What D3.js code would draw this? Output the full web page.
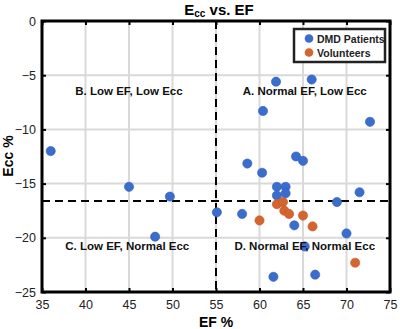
<!DOCTYPE html>
<html>
<head>
<meta charset="utf-8">
<script src="https://cdn.jsdelivr.net/npm/d3@7"></script>
<style>
  body { margin: 0; background: #fff; }
  svg { font-family: "Liberation Sans", Arial, sans-serif; }
</style>
</head>
<body>
<div id="chart"></div>
<script>
// Data
const patientsEF  = [36.0, 45.0, 49.7, 48.0, 55.1, 58.0, 58.6, 60.3, 62.0, 63.0, 62.0, 63.0, 64.2, 65.0, 64.0, 65.2, 61.6, 66.4, 68.9, 70.0, 71.5, 72.7, 61.9, 66.0, 60.4];
const patientsEcc = [-12.0, -15.3, -16.2, -19.9, -17.65, -17.8, -13.15, -14.0, -15.3, -15.3, -16.1, -15.9, -12.5, -12.9, -18.85, -20.8, -23.6, -23.4, -16.7, -19.6, -15.8, -9.3, -5.6, -5.4, -8.3];
const volunteersEF  = [60.0, 62.0, 62.7, 62.85, 63.4, 65.0, 66.1, 71.0];
const volunteersEcc = [-18.4, -16.9, -16.7, -17.5, -17.8, -17.95, -18.95, -22.3];
const xTicks = [35, 40, 45, 50, 55, 60, 65, 70, 75];
const yTicks = [0, -5, -10, -15, -20, -25];
const efCut = 55;
const eccCut = -16.6;
const regions = [
    { label: "B. Low EF, Low Ecc", x: 45, y: -6.85 },
    { label: "A. Normal EF, Low Ecc", x: 65.2, y: -6.85 },
    { label: "C. Low EF, Normal Ecc", x: 44.8, y: -21.1 },
    { label: "D. Normal EF, Normal Ecc", x: 65.2, y: -21.1 }
];

const width = 400, height = 329;
const margin = { top: 21, right: 10, bottom: 37, left: 42 };
const iw = width - margin.left - margin.right;
const ih = height - margin.top - margin.bottom;

const svg = d3.select("#chart").append("svg")
    .attr("width", width)
    .attr("height", height);

const g = svg.append("g")
    .attr("transform", `translate(${margin.left},${margin.top})`);

const x = d3.scaleLinear().domain([35, 75]).range([0, iw]);
const y = d3.scaleLinear().domain([-25, 0]).range([ih, 0]);

// Grid
g.selectAll(".gx").data(xTicks).enter().append("line")
    .attr("x1", d => x(d)).attr("x2", d => x(d))
    .attr("y1", 0).attr("y2", ih)
    .attr("stroke", "#d9d9d9").attr("stroke-width", 2);
g.selectAll(".gy").data(yTicks).enter().append("line")
    .attr("y1", d => y(d)).attr("y2", d => y(d))
    .attr("x1", 0).attr("x2", iw)
    .attr("stroke", "#d9d9d9").attr("stroke-width", 2);

// Quadrant dividers
g.append("line")
    .attr("x1", x(efCut)).attr("x2", x(efCut))
    .attr("y1", 0).attr("y2", ih)
    .attr("stroke", "#000").attr("stroke-width", 2)
    .attr("stroke-dasharray", "8,5");
g.append("line")
    .attr("x1", 0).attr("x2", iw)
    .attr("y1", y(eccCut)).attr("y2", y(eccCut))
    .attr("stroke", "#000").attr("stroke-width", 2)
    .attr("stroke-dasharray", "8,5");

// Points
const patients = patientsEF.map((d, i) => ({ x: d, y: patientsEcc[i] }));
const volunteers = volunteersEF.map((d, i) => ({ x: d, y: volunteersEcc[i] }));

g.selectAll(".pt").data(patients).enter().append("circle")
    .attr("cx", d => x(d.x)).attr("cy", d => y(d.y))
    .attr("r", 4.6)
    .attr("fill", "#3a6dcc").attr("stroke", "#2f5fb8").attr("stroke-width", 0.6);

g.selectAll(".vol").data(volunteers).enter().append("circle")
    .attr("cx", d => x(d.x)).attr("cy", d => y(d.y))
    .attr("r", 4.6)
    .attr("fill", "#d5652f").attr("stroke", "#c25828").attr("stroke-width", 0.6);

// Region labels
g.selectAll(".region").data(regions).enter().append("text")
    .attr("x", d => x(d.x)).attr("y", d => y(d.y))
    .attr("text-anchor", "middle")
    .attr("font-size", 11.5).attr("font-weight", "bold")
    .attr("fill", "#111")
    .text(d => d.label);

// Axes
const xAxis = g.append("g")
    .attr("transform", `translate(0,${ih})`)
    .call(d3.axisBottom(x).tickValues(xTicks).tickSize(-4).tickPadding(8));
const yAxis = g.append("g")
    .call(d3.axisLeft(y).tickValues(yTicks).tickSize(-4).tickPadding(6));
g.append("g")
    .call(d3.axisTop(x).tickValues(xTicks).tickSize(-4).tickFormat(""));
g.append("g")
    .attr("transform", `translate(${iw},0)`)
    .call(d3.axisRight(y).tickValues(yTicks).tickSize(-4).tickFormat(""));

g.selectAll(".domain").remove();
g.selectAll(".tick line").attr("stroke", "#000").attr("stroke-width", 2);
[xAxis, yAxis].forEach(a => a.selectAll("text")
    .attr("font-size", 12.5).attr("fill", "#222")
    .attr("font-family", "Liberation Sans, Arial, sans-serif"));

// Box
g.append("rect")
    .attr("x", 0).attr("y", 0).attr("width", iw).attr("height", ih)
    .attr("fill", "none").attr("stroke", "#000").attr("stroke-width", 3);

// Legend
const legend = svg.append("g").attr("transform", "translate(294,29)");
legend.append("rect")
    .attr("width", 91).attr("height", 33)
    .attr("fill", "#fff").attr("stroke", "#222").attr("stroke-width", 2.5);
const legendItems = [
    { label: "DMD Patients", color: "#3a6dcc" },
    { label: "Volunteers", color: "#d5652f" }
];
legendItems.forEach((d, i) => {
    legend.append("circle").attr("cx", 15).attr("cy", 9.5 + i * 14)
        .attr("r", 4.3).attr("fill", d.color);
    legend.append("text").attr("x", 23).attr("y", 13.5 + i * 14)
        .attr("font-size", 10.5).attr("font-weight", "bold").attr("fill", "#222")
        .text(d.label);
});

// Title
const title = svg.append("text")
    .attr("x", 219).attr("y", 15)
    .attr("text-anchor", "middle")
    .attr("font-size", 15).attr("font-weight", "bold");
title.append("tspan").text("E");
title.append("tspan").attr("font-size", 10).attr("dy", 2).text("cc");
title.append("tspan").attr("dy", -2).text(" vs. EF");

// Axis labels
svg.append("text")
    .attr("x", 216).attr("y", 327)
    .attr("text-anchor", "middle")
    .attr("font-size", 14).attr("font-weight", "bold")
    .text("EF %");
svg.append("text")
    .attr("transform", "translate(13,156) rotate(-90)")
    .attr("text-anchor", "middle")
    .attr("font-size", 14).attr("font-weight", "bold")
    .text("Ecc %");
</script>
</body>
</html>
